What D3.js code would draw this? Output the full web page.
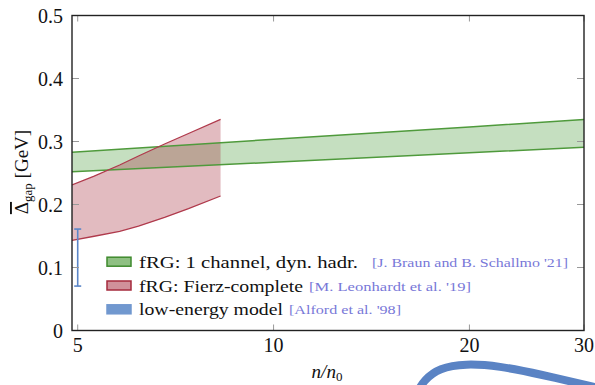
<!DOCTYPE html>
<html>
<head>
<meta charset="utf-8">
<script src="https://cdn.jsdelivr.net/npm/d3@7"></script>
<style>
  body { margin: 0; background: #fff; }
</style>
</head>
<body>
<div id="svg_chart"></div>
<script>
// tick labels
var x_ticks = [5, 10, 20, 30];
var y_ticks = [0, 0.1, 0.2, 0.3, 0.4, 0.5];

// fRG 1 channel band (green)
var green_n = [4.9, 10, 20, 30];
var green_upper = [0.283, 0.3035, 0.323, 0.335];
var green_lower = [0.252, 0.267, 0.282, 0.291];

// fRG Fierz-complete band (red)
var red_n = [4.9, 5.3, 5.8, 6.2, 6.8, 7.4, 8.29];
var red_upper = [0.231, 0.245, 0.2627, 0.277, 0.296, 0.3127, 0.335];
var red_lower = [0.143, 0.1496, 0.1574, 0.1656, 0.1795, 0.1933, 0.2135];

// low-energy model error bar
var lem_n = 5;
var lem_low = 0.0705;
var lem_high = 0.161;

// legend
var legend_labels = ["fRG: 1 channel, dyn. hadr.", "fRG: Fierz-complete", "low-energy model"];
var legend_refs = ["[J. Braun and B. Schallmo '21]", "[M. Leonhardt et al. '19]", "[Alford et al. '98]"];

// stray blue stroke below the axis (part of the slide)
var deco_n = [16.63, 17.04, 17.97, 19.70, 22.21, 25.58, 31.6];
var deco_y = [-0.0976, -0.0786, -0.0595, -0.0524, -0.0563, -0.069, -0.0913];

const svg_width = 595, svg_height = 385;
const pl = 72, pr = 584, pt = 15.5, pb = 330.5;
const serif = '"Liberation Serif", serif';

var svg = d3.select('#svg_chart').append('svg')
  .attr('width', svg_width)
  .attr('height', svg_height)
  .style('font-family', serif);

var x = d3.scaleLog().domain([4.9, 30]).range([pl, pr]);
var y = d3.scaleLinear().domain([0, 0.5]).range([pb, pt]);

svg.append('defs').append('clipPath').attr('id', 'plotclip')
  .append('rect')
  .attr('x', pl).attr('y', pt)
  .attr('width', pr - pl).attr('height', pb - pt);

var plot = svg.append('g').attr('clip-path', 'url(#plotclip)');

function band(ns, lo, hi){
  return d3.area()
    .x(function(d, i){ return x(ns[i]); })
    .y0(function(d, i){ return y(lo[i]); })
    .y1(function(d, i){ return y(hi[i]); })(ns);
}
function edge(ns, vals){
  return d3.line()
    .x(function(d, i){ return x(ns[i]); })
    .y(function(d, i){ return y(vals[i]); })(ns);
}

// green band
plot.append('path').attr('d', band(green_n, green_lower, green_upper))
  .attr('fill', '#4c9a3a').attr('fill-opacity', 0.32);
// red band
plot.append('path').attr('d', band(red_n, red_lower, red_upper))
  .attr('fill', '#a83040').attr('fill-opacity', 0.33);

[green_upper, green_lower].forEach(function(v){
  plot.append('path').attr('d', edge(green_n, v))
    .attr('fill', 'none').attr('stroke', '#4f9a3c').attr('stroke-width', 1.5);
});
[red_upper, red_lower].forEach(function(v){
  plot.append('path').attr('d', edge(red_n, v))
    .attr('fill', 'none').attr('stroke', '#b03a4c').attr('stroke-width', 1.3);
});

// error bar
var eb = svg.append('g').attr('stroke', '#5b86c8').attr('stroke-width', 1.6);
eb.append('line').attr('x1', x(lem_n)).attr('x2', x(lem_n))
  .attr('y1', y(lem_low)).attr('y2', y(lem_high));
[lem_low, lem_high].forEach(function(v){
  eb.append('line').attr('x1', x(lem_n) - 3.5).attr('x2', x(lem_n) + 3.5)
    .attr('y1', y(v)).attr('y2', y(v));
});

// ticks (inward, on all sides)
var tk = svg.append('g').attr('stroke', '#999').attr('stroke-width', 1);
x_ticks.forEach(function(t){
  tk.append('line').attr('x1', x(t)).attr('x2', x(t)).attr('y1', pb).attr('y2', pb - 6);
  tk.append('line').attr('x1', x(t)).attr('x2', x(t)).attr('y1', pt).attr('y2', pt + 6);
});
y_ticks.forEach(function(t){
  tk.append('line').attr('x1', pl).attr('x2', pl + 7).attr('y1', y(t)).attr('y2', y(t));
  tk.append('line').attr('x1', pr).attr('x2', pr - 7).attr('y1', y(t)).attr('y2', y(t));
});

// frame
svg.append('rect')
  .attr('x', pl).attr('y', pt)
  .attr('width', pr - pl).attr('height', pb - pt)
  .attr('fill', 'none').attr('stroke', '#222').attr('stroke-width', 1.4);

// tick labels
svg.selectAll('.xlab').data(x_ticks).enter().append('text')
  .attr('class', 'xlab')
  .attr('x', function(d){ return x(d); })
  .attr('y', 352)
  .attr('text-anchor', 'middle')
  .style('font-size', '20px')
  .attr('fill', '#111')
  .text(function(d){ return d; });

svg.selectAll('.ylab').data(y_ticks).enter().append('text')
  .attr('class', 'ylab')
  .attr('x', 63)
  .attr('y', function(d){ return y(d) + 7; })
  .attr('text-anchor', 'end')
  .style('font-size', '20px')
  .attr('fill', '#111')
  .text(function(d){ return d; });

// axis titles
var xt = svg.append('text')
  .attr('x', 327).attr('y', 378)
  .attr('text-anchor', 'middle')
  .style('font-size', '19px')
  .attr('fill', '#111');
xt.append('tspan').style('font-style', 'italic').text('n/n');
xt.append('tspan').style('font-size', '13px').attr('dy', 3).text('0');

var yt = svg.append('text')
  .attr('transform', 'translate(28,172) rotate(-90)')
  .attr('text-anchor', 'middle')
  .style('font-size', '19px')
  .attr('fill', '#111');
yt.append('tspan').style('text-decoration', 'overline').text('\u0394');
yt.append('tspan').style('font-size', '13px').attr('dy', 4).text('gap');
yt.append('tspan').attr('dy', -4).text(' [GeV]');

// legend
var sw_fill = ['#8fc083', '#d0909a', '#7198cf'];
var sw_stroke = ['#3f8a2e', '#a52a3c', '#7198cf'];
var txt_len = [219, 164, 144];
var ref_x = [372, 309, 289];
var ref_len = [196, 162, 112];
legend_labels.forEach(function(item, i){
  var cy = 261.7 + i * 23.8;
  svg.append('rect')
    .attr('x', 107).attr('y', cy - 4.5)
    .attr('width', 24).attr('height', 9)
    .attr('fill', sw_fill[i])
    .attr('stroke', sw_stroke[i]).attr('stroke-width', 1.5);
  svg.append('text')
    .attr('x', 139).attr('y', cy + 6)
    .attr('textLength', txt_len[i]).attr('lengthAdjust', 'spacingAndGlyphs')
    .style('font-size', '17px')
    .attr('fill', '#111')
    .text(item);
  svg.append('text')
    .attr('x', ref_x[i]).attr('y', cy + 5)
    .attr('textLength', ref_len[i]).attr('lengthAdjust', 'spacingAndGlyphs')
    .style('font-size', '12.5px')
    .attr('fill', '#7878d8')
    .text(legend_refs[i]);
});

// decorative stroke under the axis
svg.append('path')
  .attr('d', d3.line().curve(d3.curveBasis)
    .x(function(d, i){ return x(deco_n[i]); })
    .y(function(d, i){ return y(deco_y[i]); })(deco_n))
  .attr('fill', 'none')
  .attr('stroke', '#5a83c4')
  .attr('stroke-width', 8)
  .attr('stroke-linecap', 'round');
</script>
</body>
</html>
